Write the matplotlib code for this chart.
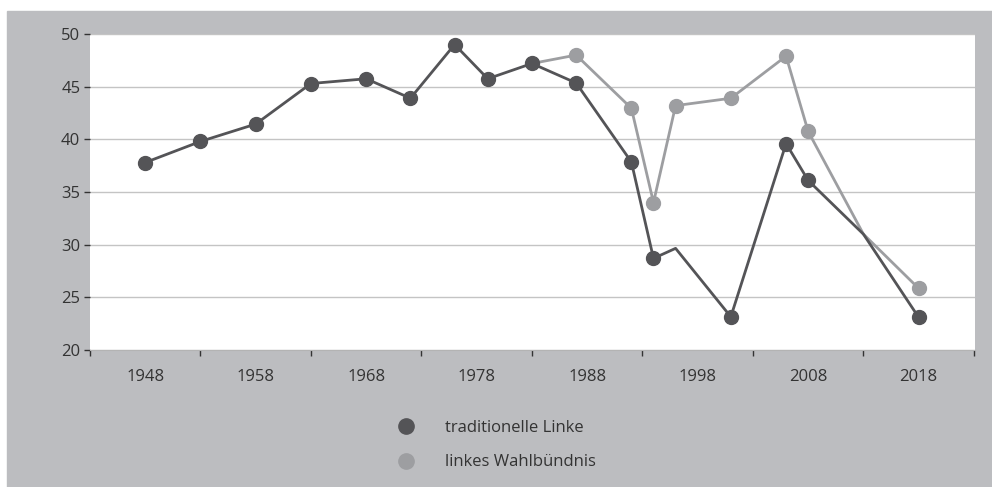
import matplotlib
matplotlib.use("Agg")
import matplotlib.pyplot as plt
from matplotlib.lines import Line2D
from matplotlib.patches import Rectangle

plt.rcParams['font.family'] = ['Open Sans', 'DejaVu Sans']

# Wahljahre und Stimmenanteile (%)
years_trad = [1948, 1953, 1958, 1963, 1968, 1972, 1976, 1979, 1983, 1987,
              1992, 1994, 1996, 2001, 2006, 2008, 2013, 2018]
trad = [37.8, 39.8, 41.45, 45.3, 45.75, 43.9, 49.0, 45.75, 47.2, 45.35,
        37.85, 28.7, 29.65, 23.15, 39.6, 36.1, 31.0, 23.1]
trad_marker = [True] * 12 + [False] + [True] * 3 + [False, True]

years_bund = [1983, 1987, 1992, 1994, 1996, 2001, 2006, 2008, 2013, 2018]
bund = [47.2, 48.0, 42.95, 34.0, 43.2, 43.9, 47.9, 40.75, 31.0, 25.85]
bund_marker = [False] + [True] * 7 + [False, True]

tick_labels = ['1948', '1958', '1968', '1978', '1988', '1998', '2008', '2018']
label_pos = [1948, 1958, 1968, 1978, 1988, 1998, 2008, 2018]

dark = '#545457'
light = '#9d9ea1'
bg = '#bcbdc0'
txt = '#333333'

W, H = 992, 487
fig = plt.figure(figsize=(W / 100, H / 100), dpi=100)
fig.patch.set_facecolor('white')
fig.add_artist(Rectangle((7 / W, 0), 1 - 7 / W, (H - 11) / H,
                         transform=fig.transFigure, color=bg, zorder=0))

ax = fig.add_axes([90 / W, (H - 350) / H, 885 / W, 316 / H])
ax.set_facecolor('white')

ax.plot(years_bund, bund, color=light, lw=2, zorder=3)
ax.plot([y for y, m in zip(years_bund, bund_marker) if m],
        [v for v, m in zip(bund, bund_marker) if m],
        'o', color=light, ms=10, zorder=3)
ax.plot(years_trad, trad, color=dark, lw=2, zorder=4)
ax.plot([y for y, m in zip(years_trad, trad_marker) if m],
        [v for v, m in zip(trad, trad_marker) if m],
        'o', color=dark, ms=10, zorder=4)

ax.set_xlim(1943, 2023.1)
ax.set_ylim(20, 50)
ax.set_yticks(range(20, 51, 5))
ax.set_xticks(range(1943, 2024, 10))
ax.set_xticklabels([])
ax.set_xticks(label_pos, minor=True)
ax.set_xticklabels(tick_labels, minor=True)
ax.tick_params(axis='x', which='major', length=4, width=1, color=txt, direction='out')
ax.tick_params(axis='x', which='minor', length=0, pad=14, labelsize=12, labelcolor=txt)
ax.tick_params(axis='y', length=4, width=1, color=txt, pad=3, labelsize=12, labelcolor=txt)

ax.grid(axis='y', color='#c4c4c4', lw=1)
ax.set_axisbelow(True)
for s in ['top', 'right', 'left']:
    ax.spines[s].set_visible(False)
ax.spines['bottom'].set_color('#b3b3b3')

handles = [Line2D([], [], ls='', marker='o', ms=11, color=dark),
           Line2D([], [], ls='', marker='o', ms=11, color=light)]
fig.legend(handles, ['traditionelle Linke', 'linkes Wahlbündnis'],
           loc='upper left', bbox_to_anchor=(398 / W, 1 - 420 / H),
           frameon=False, fontsize=12, labelcolor=txt, handlelength=1,
           handletextpad=1.8, labelspacing=1.1, borderpad=0, borderaxespad=0)

fig.savefig('out.png', dpi=100, facecolor=fig.get_facecolor())
